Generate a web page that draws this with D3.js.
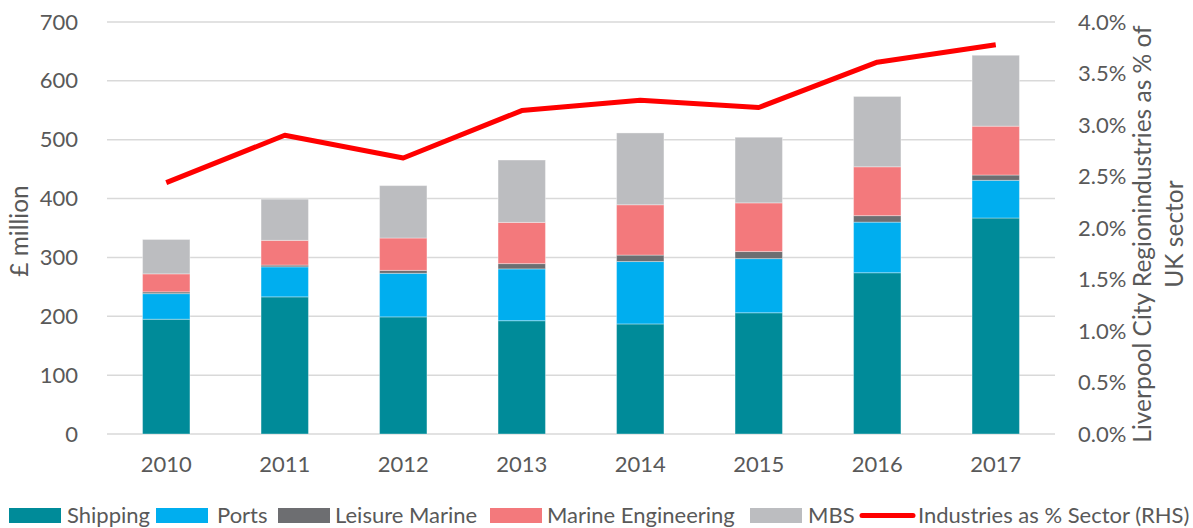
<!DOCTYPE html>
<html>
<head>
<meta charset="utf-8">
<script src="https://cdn.jsdelivr.net/npm/d3@7"></script>
<style>
html,body{margin:0;padding:0;background:#fff;}
svg{display:block;}
text{font-family:Lato, "Open Sans", sans-serif;fill:#595959;}
</style>
</head>
<body>
<svg id="chart" width="1193" height="528"></svg>
<script>
const years = ["2010","2011","2012","2013","2014","2015","2016","2017"];
const shipping = [195, 233, 199, 192.5, 187, 206, 274, 367];
const ports = [43.5, 51, 74, 88, 106, 92, 86, 64];
const leisure = [3, 3, 5, 9, 11, 12, 11, 9];
const marineEng = [30.6, 42, 55, 70, 85.5, 82.7, 83, 83];
const mbs = [58.4, 70, 89, 106, 122, 111.5, 119.5, 120.5];
const pctSector = [2.44, 2.90, 2.68, 3.14, 3.24, 3.17, 3.61, 3.78];
const leftTicks = [0,100,200,300,400,500,600,700];
const rightTicks = [0,0.5,1.0,1.5,2.0,2.5,3.0,3.5,4.0];
const seriesNames = ["Shipping","Ports","Leisure Marine","Marine Engineering","MBS"];
const seriesColors = ["#008B99","#00AEEF","#6D6E71","#F3797C","#BCBDC0"];
const lineName = "Industries as % Sector (RHS)";

const svg = d3.select("#chart");
const L = 107, R = 1055, T = 22, B = 434;

const x = d3.scaleBand().domain(years).range([L, R]).paddingInner(0.6).paddingOuter(0.3);
const y = d3.scaleLinear().domain([0, 700]).range([B, T]);
const y2 = d3.scaleLinear().domain([0, 4]).range([B, T]);

// gridlines
svg.append("g").selectAll("line").data(leftTicks).join("line")
  .attr("x1", L).attr("x2", R)
  .attr("y1", d => y(d)).attr("y2", d => y(d))
  .attr("stroke", "#D9D9D9").attr("stroke-width", 1.5);

// left axis
const gl = svg.append("g").attr("transform", `translate(${L},0)`)
  .call(d3.axisLeft(y).tickValues(leftTicks).tickSize(0).tickPadding(29).tickFormat(d3.format("d")));
gl.select(".domain").remove();
gl.selectAll("text").style("font-size", "22px").attr("fill", "#595959");

// right axis
const gr = svg.append("g").attr("transform", `translate(${R},0)`)
  .call(d3.axisRight(y2).tickValues(rightTicks).tickSize(0).tickPadding(23).tickFormat(d => d.toFixed(1) + "%"));
gr.select(".domain").remove();
gr.selectAll("text").style("font-size", "22px").attr("fill", "#595959");

// bottom axis
const gb = svg.append("g").attr("transform", `translate(0,${B})`)
  .call(d3.axisBottom(x).tickSize(0).tickPadding(22));
gb.select(".domain").remove();
gb.selectAll("text").style("font-size", "22px").attr("fill", "#595959");

// stacked data
const rows = years.map((yr, i) => ({year: yr, s0: shipping[i], s1: ports[i], s2: leisure[i], s3: marineEng[i], s4: mbs[i]}));
const stack = d3.stack().keys(["s0","s1","s2","s3","s4"])(rows);

svg.append("g").selectAll("g").data(stack).join("g")
  .attr("fill", (d, i) => seriesColors[i])
  .selectAll("rect").data(d => d).join("rect")
  .attr("x", d => x(d.data.year))
  .attr("width", x.bandwidth())
  .attr("y", d => y(d[1]))
  .attr("height", d => y(d[0]) - y(d[1]))
  .attr("stroke", "rgba(255,255,255,0.35)")
  .attr("stroke-width", 1);

// line
const line = d3.line().x((d, i) => x(years[i]) + x.bandwidth() / 2).y(d => y2(d));
svg.append("path").datum(pctSector)
  .attr("d", line).attr("fill", "none")
  .attr("stroke", "#FF0000").attr("stroke-width", 5).attr("stroke-linejoin", "round");

// axis titles
svg.append("text").attr("transform", `translate(28,231) rotate(-90)`)
  .attr("text-anchor", "middle").style("font-size", "24.5px").text("£ million");

const rt = svg.append("text").attr("transform", `translate(1151,234) rotate(-90)`)
  .attr("text-anchor", "middle").style("font-size", "24.5px");
rt.append("tspan").attr("x", 0).attr("dy", 0).text("Liverpool City Regionindustries as % of");
rt.append("tspan").attr("x", 0).attr("dy", 32).text("UK sector");

// legend
const legendItems = [
  {name: seriesNames[0], color: seriesColors[0], sx: 9, tx: 67},
  {name: seriesNames[1], color: seriesColors[1], sx: 156, tx: 217},
  {name: seriesNames[2], color: seriesColors[2], sx: 278, tx: 335},
  {name: seriesNames[3], color: seriesColors[3], sx: 490, tx: 547},
  {name: seriesNames[4], color: seriesColors[4], sx: 750, tx: 808}
];
const lg = svg.append("g");
legendItems.forEach(it => {
  lg.append("rect").attr("x", it.sx).attr("y", 508).attr("width", 52).attr("height", 15).attr("fill", it.color);
  lg.append("text").attr("x", it.tx).attr("y", 523).style("font-size", "22px").text(it.name);
});
lg.append("line").attr("x1", 862).attr("x2", 913).attr("y1", 515.5).attr("y2", 515.5)
  .attr("stroke", "#FF0000").attr("stroke-width", 5).attr("stroke-linecap", "round");
lg.append("text").attr("x", 918).attr("y", 523).style("font-size", "22px").text(lineName);
</script>
</body>
</html>
